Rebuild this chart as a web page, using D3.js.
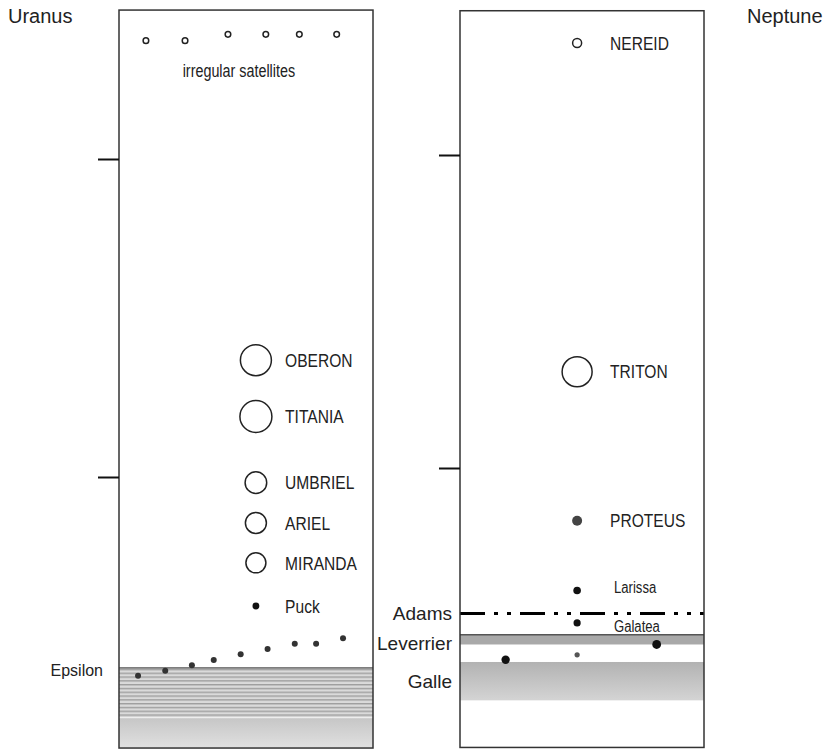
<!DOCTYPE html>
<html>
<head>
<meta charset="utf-8">
<script src="https://cdn.jsdelivr.net/npm/d3@7"></script>
<style>
body { margin: 0; background: #fff; }
text { font-family: "Liberation Sans", Arial, sans-serif; fill: #222; }
</style>
</head>
<body>
<script>
// distances in planet radii (log axis)
var ejeTicks = [10, 100];

// Uranus
var uranoTope   = 294;
var uranoFondo  = 1.405;
var uranoLunas  = ["OBERON", "TITANIA", "UMBRIEL", "ARIEL", "MIRANDA"];
var uranoDist   = [23.3, 15.5, 9.6, 7.17, 5.37];
var uranoTam    = [15.5, 16, 10.8, 10.5, 10];
var uranoIrrX   = [10.6, 26, 42.9, 57.8, 71, 85.7];
var uranoIrrD   = [235.6, 235.6, 246.6, 246.6, 246.6, 246.6];
var uranoIntX   = [7.5, 18.2, 28.7, 37.3, 47.9, 58.5, 69.2, 77.6, 88.2];
var uranoIntD   = [2.37, 2.46, 2.56, 2.66, 2.77, 2.88, 2.99, 2.99, 3.11];
var puckDist    = 3.93;
var epsilonSup  = 2.51;
var epsilonInf  = 1.75;

// Neptune
var neptTope    = 289;
var neptFondo   = 1.28;
var neptLunas   = ["NEREID", "TRITON", "PROTEUS", "Larissa", "Galatea"];
var neptDist    = [228, 20.3, 6.78, 4.06, 3.2];
var neptTam     = [4.5, 15, 5, 3.8, 3.6];
var neptAbierta = [true, true, false, false, false];
var neptMenores = [{x: 80.6, d: 2.73, r: 4.4}, {x: 48, d: 2.53, r: 2.6}, {x: 18.7, d: 2.44, r: 4.2}];
var adamsDist   = 3.43;
var leverSup    = 2.93;
var leverInf    = 2.73;
var galleSup    = 2.40;
var galleInf    = 1.81;

var svgW = 838;
var svgH = 749;
var estrecho = 0.82;   // no narrow font installed, squeeze the glyphs instead

var svg = d3.select("body")
            .append("svg")
            .attr("width", svgW)
            .attr("height", svgH);

var defs = svg.append("defs");

var rayas = defs.append("pattern")
                .attr("id", "rayas")
                .attr("patternUnits", "userSpaceOnUse")
                .attr("width", 10)
                .attr("height", 3.8);
rayas.append("rect").attr("width", 10).attr("height", 3.8).attr("fill", "#dadada");
rayas.append("rect").attr("width", 10).attr("height", 1.4).attr("fill", "#9e9e9e");

function gradiente(id, c1, c2) {
    var g = defs.append("linearGradient")
                .attr("id", id)
                .attr("x1", 0).attr("y1", 0)
                .attr("x2", 0).attr("y2", 1);
    g.append("stop").attr("offset", "0%").attr("stop-color", c1);
    g.append("stop").attr("offset", "100%").attr("stop-color", c2);
}
gradiente("gradUrano", "#c6c6c6", "#e0e0e0");
gradiente("gradGalle", "#b2b2b2", "#d4d4d4");

var xU = d3.scaleLinear().domain([0, 100]).range([119, 373]);
var yU = d3.scaleLog().domain(ejeTicks).range([477, 159]);
var xN = d3.scaleLinear().domain([0, 100]).range([460, 704]);
var yN = d3.scaleLog().domain(ejeTicks).range([468, 155]);
var rS = d3.scaleLinear().domain([0, 10]).range([0, 10]);

function banda(x, y, d1, d2, fill) {
    return svg.append("rect")
              .attr("x", x(0))
              .attr("y", y(d1))
              .attr("width", x(100) - x(0))
              .attr("height", y(d2) - y(d1))
              .attr("fill", fill);
}

function linea(x, y, d, color, ancho) {
    return svg.append("line")
              .attr("x1", x(0)).attr("x2", x(100))
              .attr("y1", y(d)).attr("y2", y(d))
              .attr("stroke", color)
              .attr("stroke-width", ancho);
}

function caja(x, y, tope, fondo) {
    svg.append("rect")
       .attr("x", x(0))
       .attr("y", y(tope))
       .attr("width", x(100) - x(0))
       .attr("height", y(fondo) - y(tope))
       .attr("fill", "none")
       .attr("stroke", "#333")
       .attr("stroke-width", 1.5);

    var eje = d3.axisLeft(y)
                .tickValues(ejeTicks)
                .tickSize(21)
                .tickFormat("");
    var g = svg.append("g")
               .attr("transform", "translate(" + x(0) + ",0)")
               .call(eje);
    g.select(".domain").remove();
    g.selectAll(".tick line").attr("stroke", "#111").attr("stroke-width", 2);
}

function etiqueta(x, y, texto, size, narrow, anchor) {
    return svg.append("text")
              .attr("transform", "translate(" + x + "," + y + ")" + (narrow ? " scale(" + estrecho + ",1)" : ""))
              .attr("dy", "0.35em")
              .attr("font-size", size)
              .attr("text-anchor", anchor || "start")
              .text(texto);
}

// ---------- Uranus ----------
banda(xU, yU, epsilonSup, epsilonInf, "url(#rayas)");
banda(xU, yU, epsilonInf, uranoFondo, "url(#gradUrano)");
linea(xU, yU, epsilonInf, "#f2f2f2", 1);
linea(xU, yU, epsilonSup, "#555", 1.3);
caja(xU, yU, uranoTope, uranoFondo);

svg.selectAll("circle.irr")
   .data(uranoIrrX)
   .enter()
   .append("circle")
   .attr("class", "irr")
   .attr("cx", function(d) { return xU(d); })
   .attr("cy", function(d, i) { return yU(uranoIrrD[i]); })
   .attr("r", rS(2.8))
   .attr("fill", "#fff")
   .attr("stroke", "#222")
   .attr("stroke-width", 1.5);

etiqueta(xU(47.2), yU(189), "irregular satellites", 17.5, true, "middle");

svg.selectAll("circle.int")
   .data(uranoIntX)
   .enter()
   .append("circle")
   .attr("class", "int")
   .attr("cx", function(d) { return xU(d); })
   .attr("cy", function(d, i) { return yU(uranoIntD[i]); })
   .attr("r", rS(3))
   .attr("fill", "#333");

svg.append("circle")
   .attr("cx", xU(53.9))
   .attr("cy", yU(puckDist))
   .attr("r", rS(3.4))
   .attr("fill", "#111");
etiqueta(xU(65.4), yU(puckDist), "Puck", 19, true);

svg.selectAll("circle.grande")
   .data(uranoLunas)
   .enter()
   .append("circle")
   .attr("class", "grande")
   .attr("cx", xU(53.9))
   .attr("cy", function(d, i) { return yU(uranoDist[i]); })
   .attr("r", function(d, i) { return rS(uranoTam[i]); })
   .attr("fill", "none")
   .attr("stroke", "#222")
   .attr("stroke-width", 1.5);

uranoLunas.forEach(function(d, i) {
    etiqueta(xU(65.4), yU(uranoDist[i]), d, 19, true);
});

etiqueta(xU(0) - 16, yU(epsilonSup) + 2, "Epsilon", 16, false, "end");
svg.append("text").attr("x", 8).attr("y", 23).attr("font-size", 20).text("Uranus");

// ---------- Neptune ----------
banda(xN, yN, leverSup, leverInf, "#a9a9a9");
linea(xN, yN, leverSup, "#555", 1.5);
banda(xN, yN, galleSup, galleInf, "url(#gradGalle)");
linea(xN, yN, adamsDist, "#000", 3)
   .attr("stroke-dasharray", "25,9,4,9,4,9");
caja(xN, yN, neptTope, neptFondo);

svg.selectAll("circle.nept")
   .data(neptLunas)
   .enter()
   .append("circle")
   .attr("class", "nept")
   .attr("cx", xN(48))
   .attr("cy", function(d, i) { return yN(neptDist[i]); })
   .attr("r", function(d, i) { return rS(neptTam[i]); })
   .attr("fill", function(d, i) { return neptAbierta[i] ? "#fff" : (i == 2 ? "#444" : "#111"); })
   .attr("stroke", function(d, i) { return neptAbierta[i] ? "#222" : "none"; })
   .attr("stroke-width", 1.5);

svg.selectAll("circle.menor")
   .data(neptMenores)
   .enter()
   .append("circle")
   .attr("class", "menor")
   .attr("cx", function(d) { return xN(d.x); })
   .attr("cy", function(d) { return yN(d.d); })
   .attr("r", function(d) { return rS(d.r); })
   .attr("fill", function(d) { return d.r < 3 ? "#555" : "#111"; });

// Larissa sits a bit above its dot, Galatea a bit below (room for the Adams line)
neptLunas.forEach(function(d, i) {
    var chico = i > 2;
    var ajuste = i == 3 ? -3 : (i == 4 ? 4 : 0);
    etiqueta(xN(chico ? 63.1 : 61.5), yN(neptDist[i]) + ajuste, d, chico ? 16 : 19, true);
});

etiqueta(452, yN(adamsDist), "Adams", 19, false, "end");
etiqueta(452, yN(leverSup) + 8, "Leverrier", 19, false, "end");
etiqueta(452, yN(Math.sqrt(galleSup * galleInf)), "Galle", 19, false, "end");
svg.append("text").attr("x", 747).attr("y", 23).attr("font-size", 20).text("Neptune");
</script>
</body>
</html>
